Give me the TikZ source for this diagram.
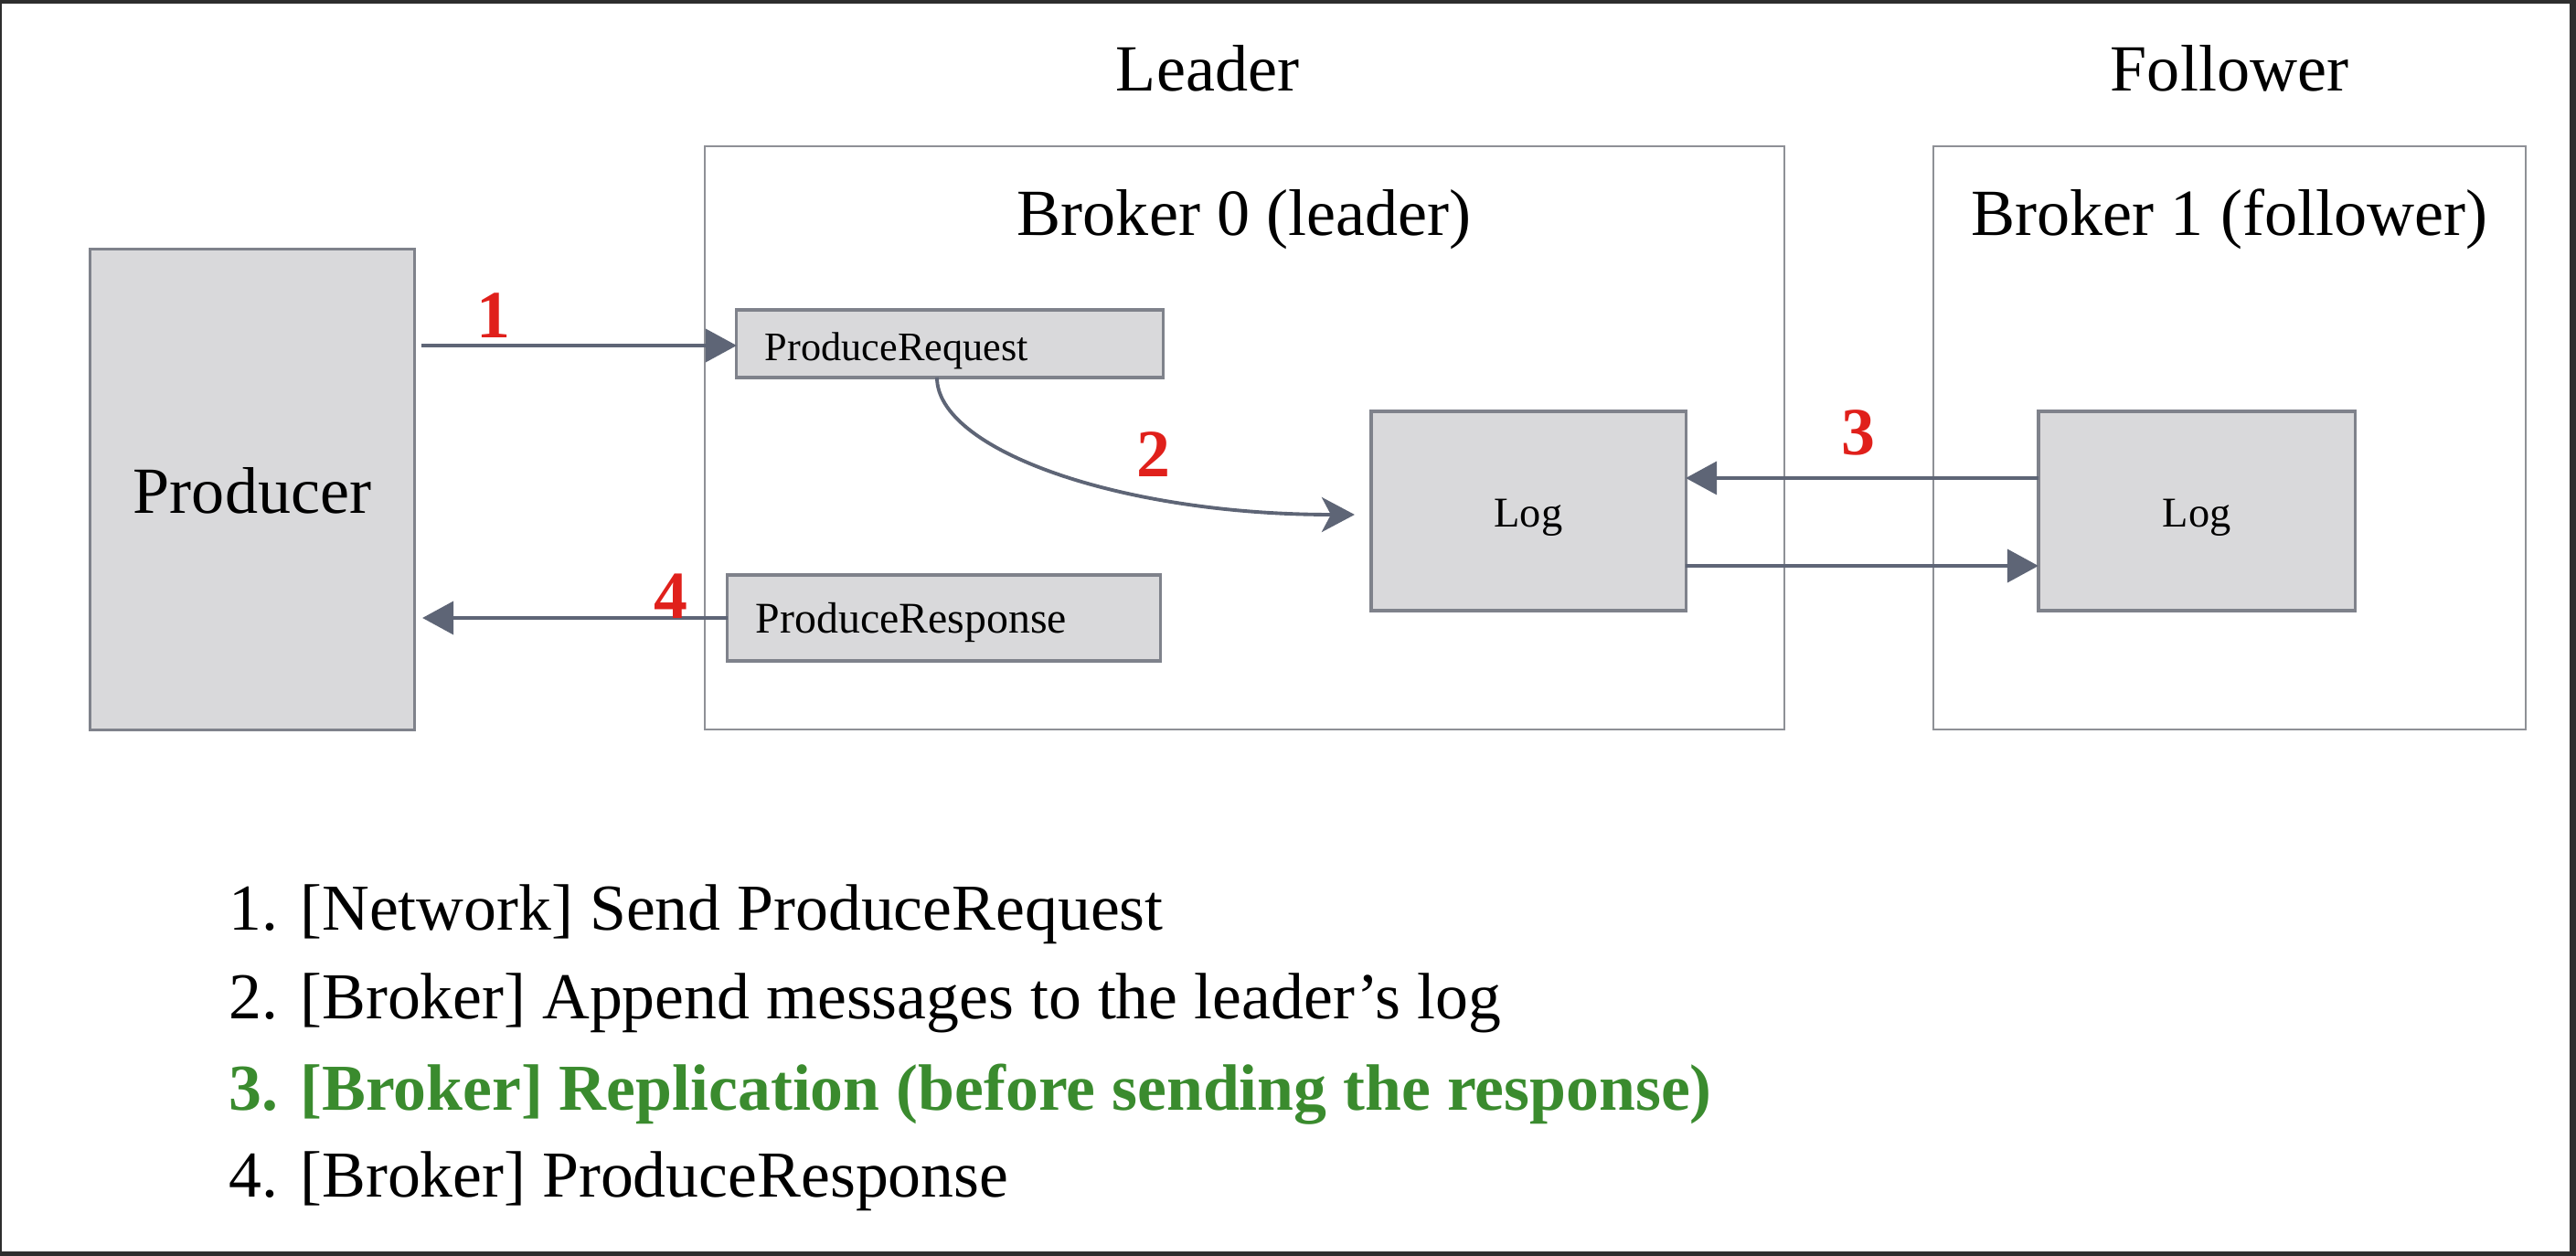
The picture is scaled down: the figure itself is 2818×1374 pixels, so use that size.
\documentclass[tikz,border=0pt]{standalone}
\usepackage{fontspec}
\setmainfont{Liberation Serif}
\usetikzlibrary{arrows.meta}
\definecolor{frame}{HTML}{2E2E2E}
\definecolor{boxfill}{HTML}{D9D9DB}
\definecolor{boxline}{HTML}{7F828B}
\definecolor{contline}{HTML}{8E9096}
\definecolor{arrcol}{HTML}{5E6576}
\definecolor{numred}{HTML}{E0201B}
\definecolor{stepgreen}{HTML}{3A8B2E}
\tikzset{
  graybox/.style={draw=boxline, line width=0.9pt, fill=boxfill, outer sep=0pt, inner sep=0pt},
  container/.style={draw=contline, line width=0.6pt, outer sep=0pt, inner sep=0pt},
  arr/.style={draw=arrcol, line width=1.1pt, -{Triangle[length=0.34cm,width=0.36cm]}, arrcol},
  curvearr/.style={draw=arrcol, line width=1.1pt, -{Stealth[length=0.36cm,width=0.38cm,inset=0.1cm]}, arrcol},
  numlabel/.style={text=numred, font=\fontsize{21}{24}\selectfont\bfseries, anchor=base, inner sep=0pt},
  bigtext/.style={font=\fontsize{20.5}{24}\selectfont, anchor=base, inner sep=0pt},
  listtext/.style={font=\fontsize{20.4}{24}\selectfont, anchor=base west, inner sep=0pt}
}
\begin{document}
\begin{tikzpicture}[x=0.01cm,y=-0.01cm]
\useasboundingbox (0,0) rectangle (2818,1374);
\fill[frame] (0,0) rectangle (2818,1374);
\fill[white] (2,4) rectangle (2811,1369);

% containers
\node[container, minimum width=11.81cm, minimum height=6.38cm] (broker0) at (1361.5,479) {};
\node[container, minimum width=6.48cm, minimum height=6.38cm] (broker1) at (2439,479) {};

% titles
\node[bigtext] (leadertitle) at (1321,100) {Leader};
\node[bigtext] (followertitle) at (2439,100) {Follower};
\node[bigtext] (b0title) at (1361,258) {Broker 0 (leader)};
\node[bigtext] (b1title) at (2439,258) {Broker 1 (follower)};

% boxes
\node[graybox, minimum width=3.54cm, minimum height=5.25cm, font=\fontsize{20.5}{24}\selectfont, text height=15pt, text depth=0pt] (producer) at (276,535.5) {Producer};
\node[graybox, font=\fontsize{12.6}{15}\selectfont, minimum width=4.66cm, minimum height=0.74cm, text width=4.04cm, align=left, text height=10.5pt, text depth=0pt] (preq) at (1039,376) {ProduceRequest};
\node[graybox, font=\fontsize{13.6}{15}\selectfont, minimum width=4.73cm, minimum height=0.94cm, text width=4.11cm, align=left, text height=9.6pt, text depth=0pt] (presp) at (1032.5,676) {ProduceResponse};
\node[graybox, font=\fontsize{13.2}{15}\selectfont, minimum width=3.44cm, minimum height=2.18cm, text height=10.2pt, text depth=0pt] (log0) at (1672,559) {Log};
\node[graybox, font=\fontsize{13.2}{15}\selectfont, minimum width=3.46cm, minimum height=2.18cm, text height=10.2pt, text depth=0pt] (log1) at (2403,559) {Log};

% connectors
\draw[arr] ([xshift=0.08cm,yshift=-0.02cm]producer.east |- preq.west) -- ([yshift=-0.02cm]preq.west);
\coordinate (c2s) at ([xshift=-0.14cm]preq.south);
\coordinate (c2e) at ([xshift=-0.18cm,yshift=-0.04cm]log0.west);
\draw[curvearr] (c2s) .. controls +(0,78) and +(-260,0) .. (c2e);
\draw[arr] ([yshift=0.36cm]log1.west) -- ([yshift=0.36cm]log0.east);
\draw[arr] ([yshift=-0.6cm]log0.east) -- ([yshift=-0.6cm]log1.west);
\draw[arr] (presp.west) -- ([xshift=0.09cm]producer.east |- presp.west);

% step numbers
\node[numlabel] (n1) at (540,370) {1};
\node[numlabel] (n2) at (1262,522) {2};
\node[numlabel] (n3) at (2033,498) {3};
\node[numlabel] (n4) at (734,677) {4};

% list
\node[listtext] (l1) at (250,1018) {1. [Network] Send ProduceRequest};
\node[listtext] (l2) at (250,1115) {2. [Broker] Append messages to the leader’s log};
\node[listtext, text=stepgreen, font=\fontsize{20.4}{24}\selectfont\bfseries] (l3) at (250,1215) {3. [Broker] Replication (before sending the response)};
\node[listtext] (l4) at (250,1310) {4. [Broker] ProduceResponse};
\end{tikzpicture}
\end{document}
